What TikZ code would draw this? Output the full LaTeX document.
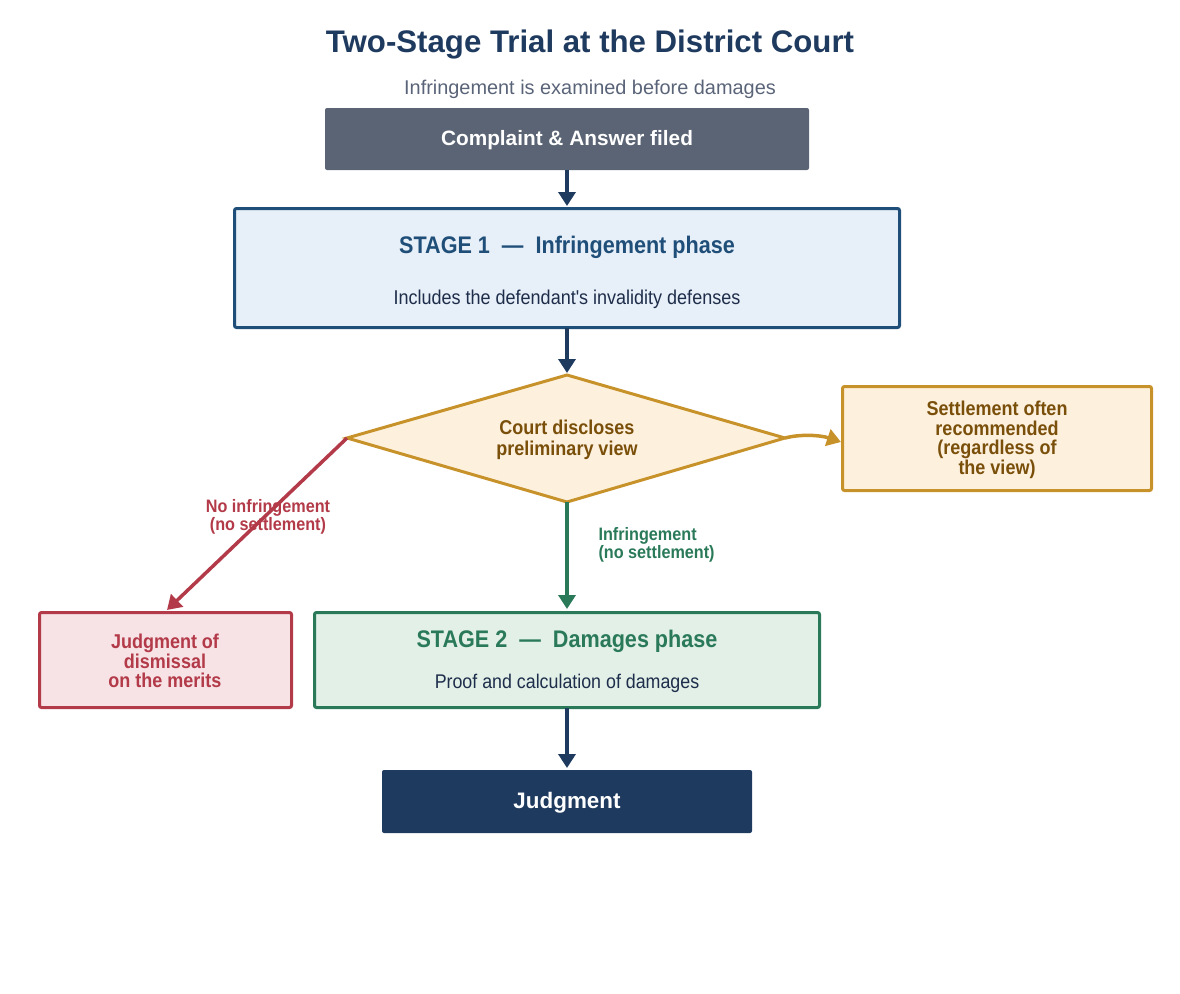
\documentclass[tikz,border=0pt]{standalone}
\usepackage{fontspec}
\setmainfont{Liberation Sans}
\newfontfamily\narrowfont{Liberation Sans}[FakeStretch=0.9]
\usetikzlibrary{arrows.meta,shapes.geometric}
\definecolor{navy}{HTML}{1F3A5F}
\definecolor{slate}{HTML}{5A6474}
\definecolor{subgray}{HTML}{5A6478}
\definecolor{blueb}{HTML}{1F4E79}
\definecolor{bluef}{HTML}{E7EFF8}
\definecolor{textdark}{HTML}{1E2D4A}
\definecolor{goldb}{HTML}{C8922A}
\definecolor{goldf}{HTML}{FDF1DE}
\definecolor{brown}{HTML}{7A4F0A}
\definecolor{redb}{HTML}{B33A48}
\definecolor{redf}{HTML}{F7E3E6}
\definecolor{greenb}{HTML}{2A7A5A}
\definecolor{greenf}{HTML}{E2F0E8}
\tikzset{
  arr/.style={line width=3.5pt,-{Triangle[length=14pt,width=17pt]}},
  solidbox/.style={rectangle,rounded corners=2pt,anchor=north west,inner sep=0pt,outer sep=0pt},
  framebox/.style={rectangle,rounded corners=2pt,line width=3pt,anchor=north west,inner sep=0pt,outer sep=0pt},
}
\begin{document}
\begin{tikzpicture}[x=1pt,y=-1pt]
\useasboundingbox (0,0) rectangle (1180,993);
% title
\node[font=\fontsize{31.2}{36}\selectfont\bfseries,text=navy] (title) at (590,45) {Two-Stage Trial at the District Court};
\node[font=\fontsize{19.9}{24}\selectfont,text=subgray] (sub) at (590,89) {Infringement is examined before damages};
% complaint
\node[solidbox,fill=slate,minimum width=484pt,minimum height=62pt] (comp) at (325,108) {};
\node[font=\fontsize{20.8}{25}\selectfont\bfseries,text=white] (compt) at (567,140) {Complaint \& Answer filed};
% stage 1
\node[framebox,draw=blueb,fill=bluef,minimum width=665pt,minimum height=119pt] (s1) at (234.5,208.5) {};
\node[font=\narrowfont\fontsize{24}{28}\selectfont\bfseries,text=blueb] (s1t) at (567,247) {STAGE 1\ \ —\ \ Infringement phase};
\node[font=\narrowfont\fontsize{20}{24}\selectfont,text=textdark] (s1s) at (567,299) {Includes the defendant's invalidity defenses};
% diamond
\coordinate (dl) at (347,438);
\coordinate (dt) at (567,375);
\coordinate (dr) at (785,438);
\coordinate (db) at (567,502);
\draw[line width=3pt,draw=goldb,fill=goldf,line join=miter] (dl) -- (dt) -- (dr) -- (db) -- cycle;
\node[font=\narrowfont\fontsize{20}{21}\selectfont\bfseries,text=brown,align=center] (dtext) at (567,440) {Court discloses\\preliminary view};
% settlement
\node[framebox,draw=goldb,fill=goldf,minimum width=309pt,minimum height=104pt] (sett) at (842.5,386.5) {};
\node[font=\narrowfont\fontsize{20}{19.5}\selectfont\bfseries,text=brown,align=center] (settt) at (997,440) {Settlement often\\recommended\\(regardless of\\the view)};
% dismissal
\node[framebox,draw=redb,fill=redf,minimum width=252pt,minimum height=95pt] (dis) at (39.5,612.5) {};
\node[font=\narrowfont\fontsize{20}{19.5}\selectfont\bfseries,text=redb,align=center] (dist) at (165,661) {Judgment of\\dismissal\\on the merits};
% stage 2
\node[framebox,draw=greenb,fill=greenf,minimum width=505pt,minimum height=95pt] (s2) at (314.5,612.5) {};
\node[font=\narrowfont\fontsize{24}{28}\selectfont\bfseries,text=greenb] (s2t) at (567,641) {STAGE 2\ \ —\ \ Damages phase};
\node[font=\narrowfont\fontsize{19.8}{23}\selectfont,text=textdark] (s2s) at (567,683) {Proof and calculation of damages};
% judgment
\node[solidbox,fill=navy,minimum width=370pt,minimum height=63pt] (judg) at (382,770) {};
\node[font=\fontsize{22.4}{27}\selectfont\bfseries,text=white] (judgt) at (567,803) {Judgment};
% arrows
\coordinate (a1s) at (567,170);
\coordinate (a1e) at (567,206);
\draw[arr,draw=navy] (a1s) -- (a1e);
\coordinate (a2s) at (567,328);
\coordinate (a2e) at (567,373);
\draw[arr,draw=navy] (a2s) -- (a2e);
\coordinate (a3e) at (567,609);
\draw[arr,draw=greenb] (db) -- (a3e);
\coordinate (a4e) at (167,610);
\draw[arr,draw=redb] (dl) -- (a4e);
\coordinate (a5e) at (841,442);
\draw[arr,draw=goldb] (dr) .. controls (800,434) and (820,435) .. (a5e);
\coordinate (a6s) at (567,708);
\coordinate (a6e) at (567,768);
\draw[arr,draw=navy] (a6s) -- (a6e);
% labels
\node[font=\narrowfont\fontsize{18}{18}\selectfont\bfseries,text=redb,align=center] (lno) at (268,517) {No infringement\\(no settlement)};
\node[font=\narrowfont\fontsize{18}{18}\selectfont\bfseries,text=greenb,align=left,anchor=west] (lyes) at (595,545) {Infringement\\(no settlement)};
\end{tikzpicture}
\end{document}
